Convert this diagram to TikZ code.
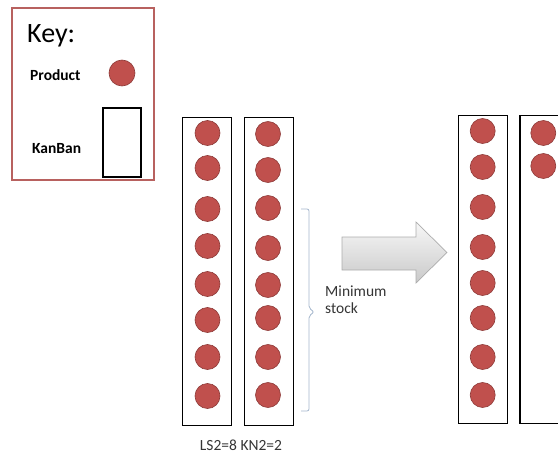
\documentclass[tikz,border=0pt]{standalone}
\usepackage{fontspec}
\setmainfont{Carlito}
\usetikzlibrary{positioning}

\definecolor{prodred}{HTML}{C0504D}
\definecolor{prodedge}{HTML}{8E3B39}
\definecolor{keyedge}{HTML}{B8615F}
\definecolor{bracecol}{HTML}{A3B6CC}
\definecolor{textgrey}{HTML}{353535}

\begin{document}
\begin{tikzpicture}[x=1pt, y=-1pt,
  product/.style = {circle, fill=prodred, draw=prodedge, line width=0.6pt,
                    minimum size=25pt, inner sep=0pt},
  kanban/.style  = {rectangle, draw=black, line width=1.3pt, inner sep=0pt,
                    minimum width=49pt, minimum height=308pt},
  keytxt/.style  = {font=\fontsize{15.5}{18}\selectfont\bfseries,
                    anchor=base west, inner sep=0pt},
  note/.style    = {font=\fontsize{15.5}{17}\selectfont, text=textgrey,
                    inner sep=0pt},
]

\clip (0,0) rectangle (558,455);

%%═══════════════════════════════════════════════════════════
%% Key
%%═══════════════════════════════════════════════════════════

\node[draw=keyedge, line width=1.3pt, minimum width=142pt, minimum height=172pt,
      inner sep=0pt] (key) at (83,94) {};

\node[anchor=base west, inner sep=0pt, font=\fontsize{28}{32}\selectfont]
  (keyttl) at (27,42) {Key:};

\node[keytxt] (prodtxt) at (30,80) {Product};
\node[product, minimum size=26pt] (prodkey) at (122,73) {};

\node[keytxt] (kbtxt) at (32,153) {KanBan};
\node[kanban, line width=1.2pt, minimum width=38pt, minimum height=69pt]
  (kbkey) at (122,142.5) {};

%%═══════════════════════════════════════════════════════════
%% Before: two full KanBans
%%═══════════════════════════════════════════════════════════

\node[kanban] (k1) at (207,271.5) {};
\node[kanban, right=11.6pt of k1] (k2) {};

\foreach \y [count=\i] in {133,168,209,246,284,320,357,396}
  \node[product] (a\i) at (207.5,\y) {};
\foreach \y [count=\i] in {134,170,208,248,285,318,357,395}
  \node[product] (b\i) at (268,\y) {};

\node[note, anchor=base] (ls) at (241,450) {LS2=8 KN2=2};

%% minimum stock brace
\draw[bracecol, line width=0.8pt, rounded corners=2pt]
  (301,209) -- (309,209) -- (309,308) -- (314,312) -- (309,316)
  -- (309,411) -- (301,411);

\node[note, anchor=base west, align=left] (minst) at (325,313.5)
  {Minimum\\stock};

%%═══════════════════════════════════════════════════════════
%% Transition arrow
%%═══════════════════════════════════════════════════════════

\shade[top color=gray!6, bottom color=gray!42, draw=gray!65, line width=0.7pt]
  (342,237) -- (416,237) -- (416,222) -- (447,252.5) -- (416,283)
  -- (416,270) -- (342,270) -- cycle;

%%═══════════════════════════════════════════════════════════
%% After: one full KanBan, one nearly empty
%%═══════════════════════════════════════════════════════════

\node[kanban] (k3) at (483,269.7) {};
\node[kanban, right=11.3pt of k3] (k4) {};

\foreach \y [count=\i] in {131,167,207,247,283,318,357,395}
  \node[product] (c\i) at (482.7,\y) {};
\foreach \y [count=\i] in {133,166}
  \node[product] (d\i) at (543.3,\y) {};

\end{tikzpicture}
\end{document}
